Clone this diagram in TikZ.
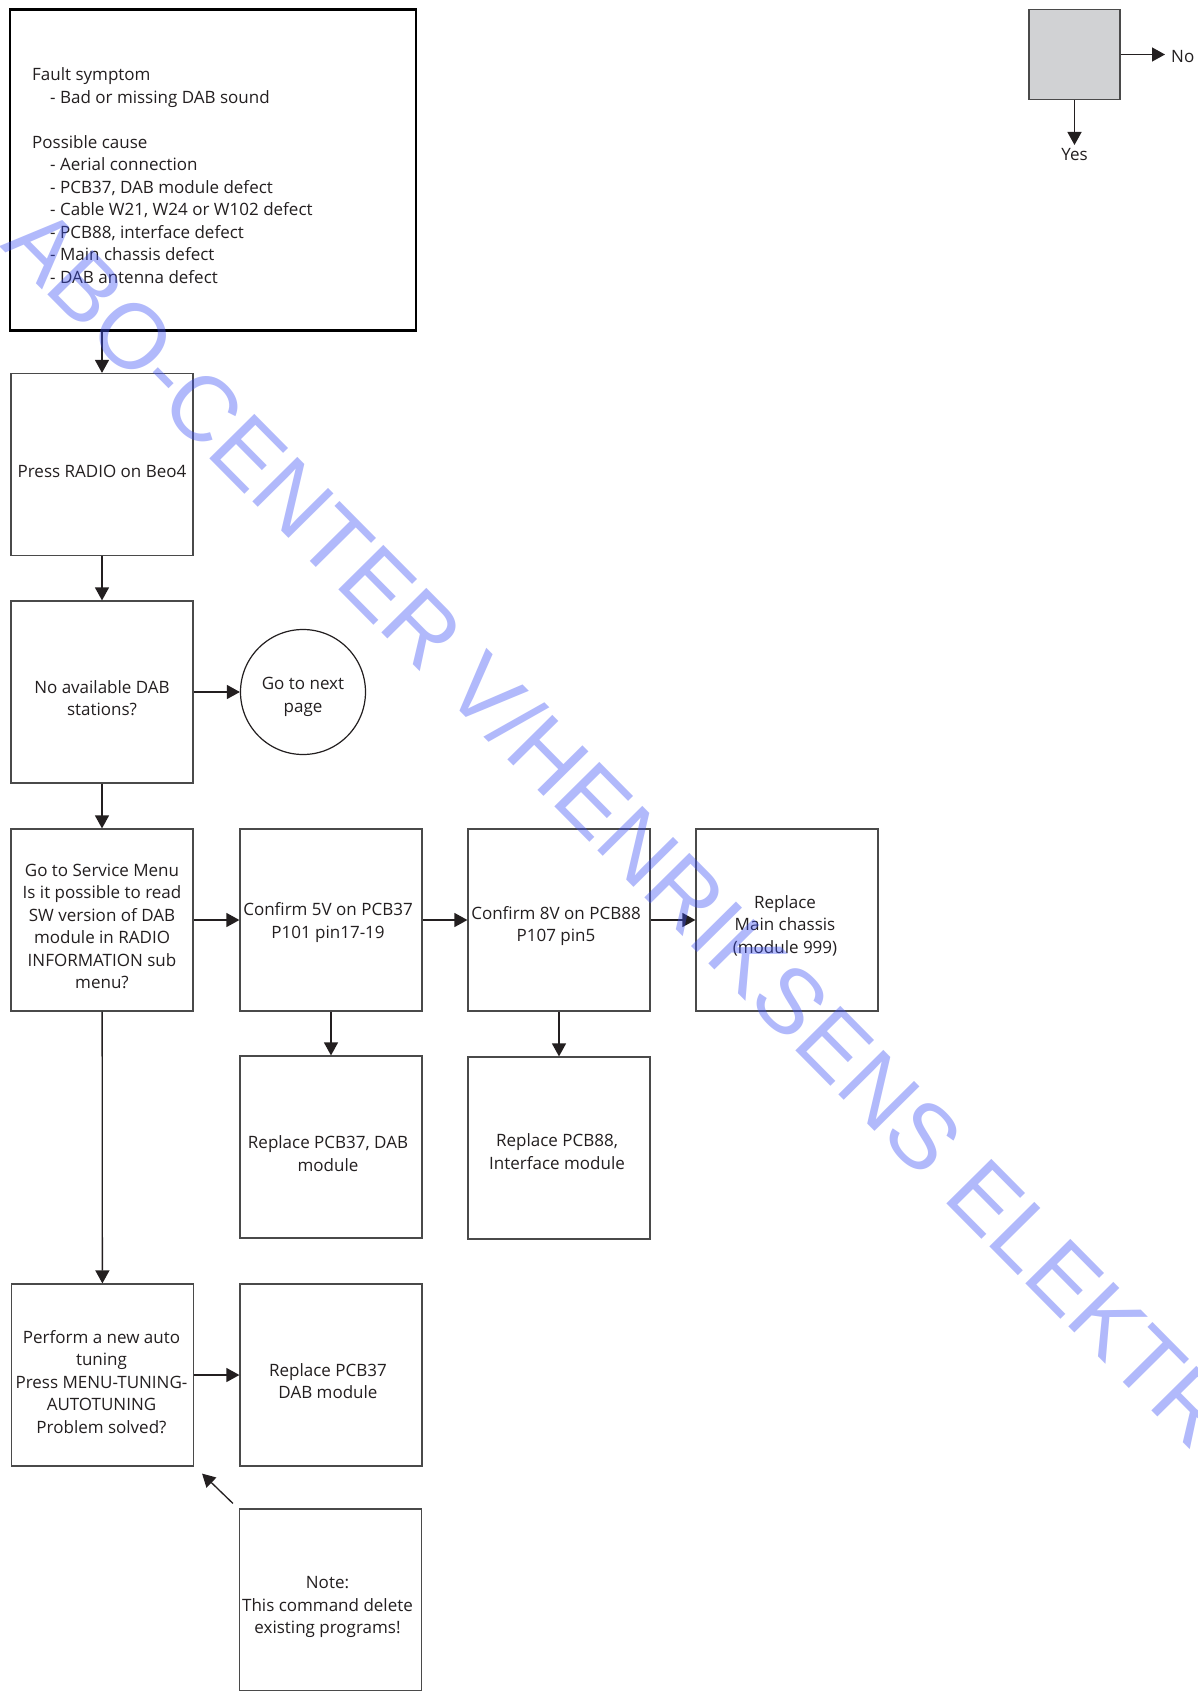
\documentclass[tikz,border=0pt]{standalone}
\usepackage{fontspec}
\setmainfont{Open Sans}
\newfontfamily\wmfont{Liberation Sans}
\usetikzlibrary{arrows.meta,calc}
\definecolor{ink}{HTML}{231F20}
\definecolor{edge}{HTML}{4A4A4A}
\definecolor{legfill}{HTML}{D1D2D4}
\definecolor{wm}{HTML}{3C50F5}
\begin{document}
\begin{tikzpicture}[x=1pt,y=-1pt,
  every node/.style={font=\fontsize{17}{22.5}\selectfont, text=ink},
  stepbox/.style={draw=edge, line width=1.2pt, minimum width=182pt, minimum height=182pt, inner sep=0pt},
  boxtext/.style={inner sep=0pt, align=center},
  conn/.style={draw=ink, line width=1.3pt, -{Triangle[length=13pt,width=14pt]}},
]
\useasboundingbox (0,0) rectangle (1198,1691);
\fill[white] (0,0) rectangle (1198,1691);

% top box
\node[draw=black, line width=2.6pt, minimum width=406pt, minimum height=321pt, inner sep=0pt] (topbox) at (213,170) {};
\node[anchor=west, align=left, inner sep=0pt] (symptom) at (32,175.5) {Fault symptom\\
\hspace*{18pt}- Bad or missing DAB sound\\[22.5pt]
Possible cause\\
\hspace*{18pt}- Aerial connection\\
\hspace*{18pt}- PCB37, DAB module defect\\
\hspace*{18pt}- Cable W21, W24 or W102 defect\\
\hspace*{18pt}- PCB88, interface defect\\
\hspace*{18pt}- Main chassis defect\\
\hspace*{18pt}- DAB antenna defect};

% flow boxes
\node[stepbox] (press) at (102,464.5) {};
\node[boxtext] (presst) at ($(press)+(0,7)$) {Press RADIO on Beo4};
\node[stepbox] (nodab) at (102,692) {};
\node[boxtext] (nodabt) at ($(nodab)+(0,6)$) {No available DAB\\stations?};
\node[draw=ink, circle, line width=1.2pt, minimum size=125pt, inner sep=0pt] (goto) at (303,692) {};
\node[boxtext] (gotot) at ($(goto)+(0,5)$) {Go to next\\page};
\node[stepbox] (svc) at (102,920) {};
\node[boxtext] (svct) at ($(svc)+(0,6.5)$) {Go to Service Menu\\Is it possible to read\\SW version of DAB\\module in RADIO\\INFORMATION sub\\menu?};
\node[stepbox] (c5v) at (331,920) {};
\node[boxtext] (c5vt) at ($(c5v)+(-3,2.5)$) {Confirm 5V on PCB37\\P101 pin17-19};
\node[stepbox] (c8v) at (559,920) {};
\node[boxtext] (c8vt) at ($(c8v)+(-3,6)$) {Confirm 8V on PCB88\\P107 pin5};
\node[stepbox] (main) at (787,920) {};
\node[boxtext] (maint) at ($(main)+(-2,5.5)$) {Replace\\Main chassis\\(module 999)};
\node[stepbox] (r37) at (331,1147) {};
\node[boxtext] (r37t) at ($(r37)+(-3,6.5)$) {Replace PCB37, DAB\\module};
\node[stepbox] (r88) at (559,1148) {};
\node[boxtext] (r88t) at ($(r88)+(-2,3.5)$) {Replace PCB88,\\Interface module};
\node[stepbox] (auto) at (102.5,1375) {};
\node[boxtext] (autot) at ($(auto)+(-1,7)$) {Perform a new auto\\tuning\\Press MENU-TUNING-\\AUTOTUNING\\Problem solved?};
\node[stepbox] (r37b) at (331,1375) {};
\node[boxtext] (r37bt) at ($(r37b)+(-3,6)$) {Replace PCB37\\DAB module};
\node[stepbox] (note) at (330.5,1600) {};
\node[boxtext] (notet) at ($(note)+(-3,7)$) {Note:\\This command delete\\existing programs!};

% legend
\node[draw=edge, fill=legfill, line width=1.2pt, minimum width=91pt, minimum height=90pt, inner sep=0pt] (legend) at (1074.5,54.5) {};
\coordinate (noend) at (1165,54.5);
\coordinate (yesend) at (1074.5,145);
\draw[conn] (legend.east) -- (noend);
\draw[conn] (legend.south) -- (yesend);
\node[anchor=west, inner sep=0pt] (no) at (1171,56.5) {No};
\node[anchor=north, inner sep=0pt] (yes) at (1074.5,148.5) {Yes};

% connectors
\draw[conn] (topbox.south -| press.north) -- (press.north);
\draw[conn] (press) -- (nodab);
\draw[conn] (nodab) -- (goto);
\draw[conn] (nodab) -- (svc);
\draw[conn] (svc) -- (c5v);
\draw[conn] (c5v) -- (c8v);
\draw[conn] (c8v) -- (main);
\draw[conn] (c5v) -- (r37);
\draw[conn] (c8v) -- (r88);
\draw[conn] (svc) -- (auto);
\draw[conn] (auto) -- (r37b);
\coordinate (notetail) at ($(note.north west)+(-6,-5)$);
\coordinate (notetip) at ($(auto.south east)+(8,7)$);
\draw[conn] (notetail) -- (notetip);

% watermark
\begin{scope}
\clip (0,0) rectangle (1198,1691);
\node[rotate=-45.3, anchor=base west, inner sep=0pt, text=wm, text opacity=0.4, font=\wmfont\fontsize{92}{92}\selectfont] (wmark) at (-1,246) {ABO-CENTER V/HENRIKSENS ELEKTRONIK};
\end{scope}
\end{tikzpicture}
\end{document}
